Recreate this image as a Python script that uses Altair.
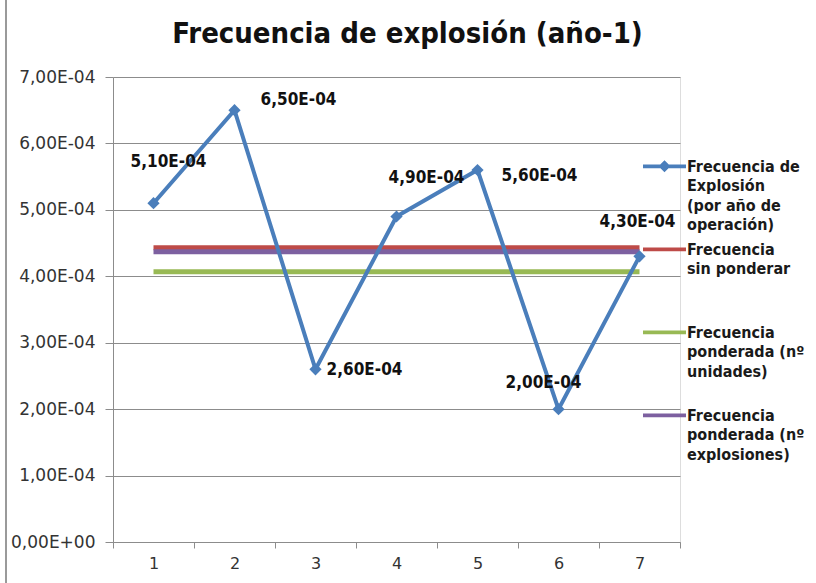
import altair as alt
import pandas as pd

# ---------------- data ----------------
CATEGORIES = [1, 2, 3, 4, 5, 6, 7]
FREQ_EXPLOSION = [5.10e-4, 6.50e-4, 2.60e-4, 4.90e-4, 5.60e-4, 2.00e-4, 4.30e-4]
FREQ_SIN_PONDERAR = [4.43e-4] * 7
FREQ_POND_UNIDADES = [4.07e-4] * 7
FREQ_POND_EXPLOSIONES = [4.37e-4] * 7
SERIES_NAMES = [
    "Frecuencia de|Explosión|(por año de|operación)",
    "Frecuencia|sin ponderar",
    "Frecuencia|ponderada (nº|unidades)",
    "Frecuencia|ponderada (nº|explosiones)",
]
Y_TICKS = [0, 1e-4, 2e-4, 3e-4, 4e-4, 5e-4, 6e-4, 7e-4]
TITLE = "Frecuencia de explosión (año-1)"

# ---------------- styles ----------------
COLORS = ["#4a7ebb", "#be4b48", "#98b954", "#7d60a0"]
FONT = "DejaVu Sans Condensed"
AXIS_FONT = "DejaVu Sans"
LABEL_DX = [15, 64, 49, 30, 62, -15, -2]
LABEL_DY = [-41, -10, 1, -39, 6, -26, -34]
LINE_PATH = "M-1,-0.33L1,-0.33L1,-0.15L-1,-0.15Z"
DIAMOND_LINE_PATH = LINE_PATH + "M0,-0.52L0.28,-0.24L0,0.04L-0.28,-0.24Z"

rows = []
for name, vals in zip(SERIES_NAMES, [FREQ_EXPLOSION, FREQ_SIN_PONDERAR,
                                     FREQ_POND_UNIDADES, FREQ_POND_EXPLOSIONES]):
    for c, v in zip(CATEGORIES, vals):
        rows.append({"cat": str(c), "value": v, "series": name,
                     "label": f"{v:.2E}".replace(".", ",")})
df = pd.DataFrame(rows)
main_df = df[df["series"] == SERIES_NAMES[0]]
flat_df = df[df["series"] != SERIES_NAMES[0]]

x_enc = alt.X("cat:O", bandPosition=0.5,
              scale=alt.Scale(type="band", paddingInner=0, paddingOuter=0,
                              domain=[str(c) for c in CATEGORIES]),
              axis=alt.Axis(title=None, labelAngle=0, tickBand="extent",
                            labelFont=AXIS_FONT, labelFontSize=16, labelColor="#333333",
                            domainColor="#8c8c8c", tickColor="#8c8c8c", tickSize=6,
                            labelPadding=7, grid=False))
y_enc = alt.Y("value:Q", scale=alt.Scale(domain=[0, 7e-4], nice=False, zero=True),
              axis=alt.Axis(title=None, values=Y_TICKS,
                            labelExpr="replace(replace(replace(upper(format(datum.value, '.2e')), '.', ','), 'E-', 'E-0'), 'E+', 'E+0')",
                            labelFont=AXIS_FONT, labelFontSize=17, labelColor="#333333",
                            domainColor="#8c8c8c", tickColor="#8c8c8c", tickSize=8,
                            gridColor="#8c8c8c", gridWidth=1, labelPadding=10))

LEGEND = alt.Legend(
    title=None, orient="none", legendX=530, legendY=73,
    labelExpr="split(datum.label, '|')", labelFont=FONT, labelFontSize=16,
    labelFontWeight="bold", labelColor="#1a1a1a", labelLimit=220,
    labelBaseline="alphabetic", labelOffset=1, symbolSize=1849,
    symbolOpacity=1, symbolStrokeWidth=0, gridAlign="all",
    rowPadding=0, padding=0)
color_scale = alt.Scale(domain=SERIES_NAMES, range=COLORS)
color_enc = alt.Color("series:N", scale=color_scale, legend=LEGEND)
shape_enc = alt.Shape("series:N", scale=alt.Scale(
    domain=SERIES_NAMES,
    range=[DIAMOND_LINE_PATH, LINE_PATH, LINE_PATH, LINE_PATH]), legend=LEGEND)

flat_lines = alt.Chart(flat_df).mark_line(strokeWidth=5).encode(
    x=x_enc, y=y_enc, color=color_enc)

main_line = alt.Chart(main_df).mark_line(strokeWidth=4).encode(
    x=x_enc, y=y_enc, color=color_enc)

main_points = alt.Chart(main_df).mark_point(shape="diamond", filled=True, size=150,
                                            opacity=1).encode(
    x=x_enc, y=y_enc, color=color_enc)

legend_layer = alt.Chart(df).mark_point(filled=True, size=0, opacity=1).encode(
    x=x_enc, y=y_enc, color=color_enc, shape=shape_enc)

text_layers = []
for i, c in enumerate(CATEGORIES):
    text_layers.append(
        alt.Chart(main_df).transform_filter(alt.datum.cat == str(c))
        .mark_text(font=FONT, fontSize=17, fontWeight="bold", color="#111111",
                   dx=LABEL_DX[i], dy=LABEL_DY[i])
        .encode(x=x_enc, y=y_enc, text="label:N"))

frame = alt.Chart(df).mark_rule(color="#9a9a9a", strokeWidth=2).encode(
    x=alt.value(-107), y=alt.value(-77), y2=alt.value(506))

chart = alt.layer(frame, flat_lines, main_line, main_points, legend_layer,
                  *text_layers).properties(
    width=567, height=465,
    title=alt.TitleParams(TITLE, font=FONT, fontSize=29, fontWeight="bold",
                          color="#111111", anchor="middle", frame="group",
                          dx=11, offset=-50),
    autosize=alt.AutoSizeParams(type="none"),
    padding={"left": 113, "top": 77, "right": 136, "bottom": 41},
).configure_view(stroke=None).configure(
    background="white",
    style={"guide-label": {"lineHeight": 19.5}},
)

chart.save("out.html", embed_options={"renderer": "svg", "actions": False})
